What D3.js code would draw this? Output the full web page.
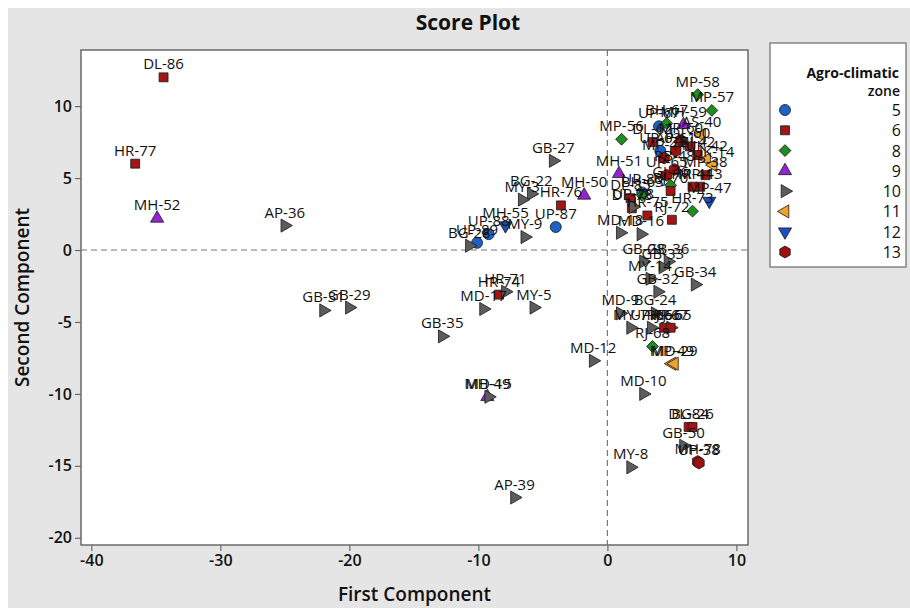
<!DOCTYPE html>
<html>
<head>
<meta charset="utf-8">
<script src="https://cdn.jsdelivr.net/npm/d3@7"></script>
<style>
  body { margin: 0; background: #fff; }
  svg { display: block; font-family: "Open Sans", "Noto Sans", sans-serif; }
</style>
</head>
<body>
<div id="chart"></div>
<script>
// Sample names, agro-climatic zones and PCA scores
const names = [
  "DL-86", "HR-77", "MH-52", "AP-36", "GB-31", "GB-29", "GB-35", "MD-17", "HR-74", "HR-71",
  "MY-5", "MD-12", "MH-49", "MD-15", "AP-39", "GB-27", "BG-22", "MY-3", "HR-76", "MH-50",
  "UP-87", "MH-55", "MY-9", "UP-88", "UP-89", "BG-28",
  "MP-58", "MP-57", "MP-56", "MH-51", "UP-67", "BH-67", "MH-59", "AS-40", "DL-62", "UP-62",
  "AP-61", "DL-60", "MP-60", "UK-42", "RJ-42", "MP-44", "UP-65", "UK-14", "MP-38", "PB-48",
  "GJ-46", "RJ-70", "HR-41", "MP-43", "MP-47", "HR-73", "RJ-72", "DL-85", "DL-78", "UP-78",
  "HR-75", "MD-18", "MD-16", "UP-80", "BH-63",
  "GB-28", "GB-36", "GB-33", "MY-14", "GB-34", "GB-32", "MD-9", "BG-24", "MY-7", "UP-66",
  "HP-65", "RJ-66", "RJ-67", "RJ-68", "MP-49", "MD-29", "MD-10", "DL-84", "BG-26", "GB-50",
  "MH-78", "UP-38", "MY-8"
];
const zones = [
  6, 6, 9, 10, 10, 10, 10, 10, 6, 10,
  10, 10, 9, 10, 10, 10, 10, 10, 6, 9,
  5, 12, 10, 5, 5, 10,
  8, 8, 8, 9, 5, 8, 9, 11, 6, 5,
  13, 6, 13, 11, 6, 13, 13, 11, 6, 13,
  8, 6, 6, 6, 12, 8, 6, 6, 6, 10,
  6, 10, 10, 5, 8,
  10, 10, 10, 10, 10, 10, 10, 10, 10, 10,
  10, 6, 6, 8, 11, 11, 10, 6, 6, 10,
  13, 13, 10
];
const firstComp = [
  -34.4, -36.6, -34.9, -25.0, -22.0, -20.0, -12.8, -9.6, -8.4, -7.9,
  -5.7, -1.1, -9.3, -9.2, -7.2, -4.2, -5.9, -6.6, -3.6, -1.8,
  -4.0, -7.9, -6.4, -9.2, -10.1, -10.7,
  7.0, 8.1, 1.1, 0.9, 4.0, 4.6, 5.9, 7.3, 3.5, 4.1,
  5.3, 6.4, 5.7, 7.7, 7.0, 4.4, 4.6, 8.2, 7.6, 5.2,
  4.9, 4.9, 6.6, 7.2, 7.9, 6.6, 5.0, 1.8, 1.9, 2.0,
  3.1, 1.0, 2.6, 2.7, 2.7,
  2.8, 4.7, 4.3, 3.3, 6.8, 3.9, 1.0, 3.7, 1.8, 3.4,
  4.9, 4.4, 4.9, 3.5, 5.0, 5.2, 2.8, 6.3, 6.6, 5.9,
  7.0, 7.1, 1.8
];
const secondComp = [
  12.0, 6.0, 2.2, 1.7, -4.2, -4.0, -6.0, -4.1, -3.1, -2.9,
  -4.0, -7.7, -10.2, -10.2, -17.2, 6.2, 3.9, 3.5, 3.1, 3.8,
  1.6, 1.7, 0.9, 1.1, 0.5, 0.3,
  10.8, 9.7, 7.7, 5.3, 8.6, 8.8, 8.7, 8.0, 7.5, 6.9,
  6.9, 7.2, 7.6, 6.3, 6.6, 6.4, 5.2, 5.9, 5.2, 5.6,
  4.5, 4.1, 4.4, 4.4, 3.4, 2.7, 2.1, 3.6, 2.9, 3.0,
  2.4, 1.2, 1.1, 4.0, 3.8,
  -0.8, -0.8, -1.2, -2.0, -2.4, -2.9, -4.4, -4.4, -5.4, -5.4,
  -5.4, -5.4, -5.4, -6.7, -7.9, -7.9, -10.0, -12.3, -12.3, -13.6,
  -14.7, -14.8, -15.1
];
const zoneKeys = [5, 6, 8, 9, 10, 11, 12, 13];
const xTicks = [-40, -30, -20, -10, 0, 10];
const yTicks = [10, 5, 0, -5, -10, -15, -20];

const W = 910, H = 608;
const plot = { left: 81, top: 50, right: 748, bottom: 545 };

const points = names.map((n, i) => ({ name: n, zone: zones[i], x: firstComp[i], y: secondComp[i] }));

// marker style per zone
const zoneStyle = {
  5:  { shape: "circle",  fill: "#1b62c4", rot: 0 },
  6:  { shape: "square",  fill: "#a31616", rot: 0 },
  8:  { shape: "diamond", fill: "#1e8c1e", rot: 0 },
  9:  { shape: "tri",     fill: "#9225cf", rot: 0 },
  10: { shape: "tri",     fill: "#5c5c5c", rot: 90 },
  11: { shape: "tri",     fill: "#f0a22e", rot: -90 },
  12: { shape: "tri",     fill: "#1a4fc2", rot: 180 },
  13: { shape: "hex",     fill: "#9c1010", rot: 0 }
};

function markerPath(shape) {
  if (shape === "circle") return d3.symbol(d3.symbolCircle, 95)();
  if (shape === "square") return d3.symbol(d3.symbolSquare, 80)();
  if (shape === "diamond") return d3.symbol(d3.symbolSquare, 70)();
  if (shape === "tri") return d3.symbol(d3.symbolTriangle, 75)();
  // hexagon, pointy top
  const r = 6;
  return d3.range(6).map(k => {
    const a = Math.PI / 3 * k - Math.PI / 2;
    return (k ? "L" : "M") + (r * Math.cos(a)).toFixed(2) + "," + (r * Math.sin(a)).toFixed(2);
  }).join("") + "Z";
}
function markerRot(s) {
  return s.shape === "diamond" ? 45 : s.rot;
}

const svg = d3.select("#chart").append("svg")
  .attr("width", W).attr("height", H);

// gray backdrop
svg.append("rect")
  .attr("x", 8).attr("y", 8).attr("width", W - 8).attr("height", H - 8)
  .attr("fill", "#e5e5e5");

const xScale = d3.scaleLinear().domain([-40.8, 10.9]).range([plot.left, plot.right]);
const yScale = d3.scaleLinear().domain([13.9, -20.5]).range([plot.top, plot.bottom]);

svg.append("rect")
  .attr("x", plot.left).attr("y", plot.top)
  .attr("width", plot.right - plot.left).attr("height", plot.bottom - plot.top)
  .attr("fill", "#fff").attr("stroke", "#6a6a6a").attr("stroke-width", 1.5);

// reference lines
svg.append("line")
  .attr("x1", xScale(0)).attr("x2", xScale(0))
  .attr("y1", plot.top).attr("y2", plot.bottom)
  .attr("stroke", "#777").attr("stroke-width", 1.2).attr("stroke-dasharray", "6,4");
svg.append("line")
  .attr("x1", plot.left).attr("x2", plot.right)
  .attr("y1", yScale(0)).attr("y2", yScale(0))
  .attr("stroke", "#777").attr("stroke-width", 1.2).attr("stroke-dasharray", "6,4");

// axes (plain hyphen for negatives, as in the original)
const xAxis = svg.append("g")
  .attr("transform", `translate(0,${plot.bottom})`)
  .call(d3.axisBottom(xScale).tickValues(xTicks).tickFormat(d => String(d)).tickSize(6).tickPadding(4));
const yAxis = svg.append("g")
  .attr("transform", `translate(${plot.left},0)`)
  .call(d3.axisLeft(yScale).tickValues(yTicks).tickFormat(d => String(d)).tickSize(6).tickPadding(3));
[xAxis, yAxis].forEach(a => {
  a.select(".domain").remove();
  a.selectAll(".tick line").attr("stroke", "#6a6a6a").attr("stroke-width", 1.2);
  a.selectAll(".tick text")
    .attr("fill", "#111")
    .style("font-size", "16px")
    .style("font-weight", "600")
    .style("font-family", "'Open Sans', sans-serif");
});

// markers
svg.append("g").selectAll("path")
  .data(points)
  .enter()
  .append("path")
  .attr("d", d => markerPath(zoneStyle[d.zone].shape))
  .attr("transform", d => `translate(${xScale(d.x)},${yScale(d.y)}) rotate(${markerRot(zoneStyle[d.zone])})`)
  .attr("fill", d => zoneStyle[d.zone].fill)
  .attr("stroke", "#1a1a1a")
  .attr("stroke-width", 0.8);

// point labels
svg.append("g").selectAll("text")
  .data(points)
  .enter()
  .append("text")
  .attr("x", d => xScale(d.x))
  .attr("y", d => yScale(d.y) - 8)
  .attr("text-anchor", "middle")
  .style("font-size", "15px")
  .attr("fill", "#111")
  .text(d => d.name);

// titles
svg.append("text")
  .attr("x", 468).attr("y", 30)
  .attr("text-anchor", "middle")
  .style("font-size", "21px").style("font-weight", "700")
  .attr("fill", "#111")
  .text("Score Plot");

svg.append("text")
  .attr("x", (plot.left + plot.right) / 2).attr("y", 601)
  .attr("text-anchor", "middle")
  .style("font-size", "19px").style("font-weight", "600")
  .attr("fill", "#111")
  .text("First Component");

svg.append("text")
  .attr("transform", `translate(29,${(plot.top + plot.bottom) / 2}) rotate(-90)`)
  .attr("text-anchor", "middle")
  .style("font-size", "19px").style("font-weight", "600")
  .attr("fill", "#111")
  .text("Second Component");

// legend
const legend = svg.append("g");
legend.append("rect")
  .attr("x", 770).attr("y", 43).attr("width", 136).attr("height", 224)
  .attr("fill", "#fff").attr("stroke", "#6a6a6a").attr("stroke-width", 1.2);
legend.append("text")
  .attr("x", 899).attr("y", 78).attr("text-anchor", "end")
  .style("font-size", "14px").style("font-weight", "700").attr("fill", "#111")
  .text("Agro-climatic");
legend.append("text")
  .attr("x", 900).attr("y", 96).attr("text-anchor", "end")
  .style("font-size", "14px").style("font-weight", "600").attr("fill", "#111")
  .text("zone");

const legendRow = d3.scaleLinear().domain([0, zoneKeys.length - 1]).range([110, 252]);
const items = legend.selectAll("g.item")
  .data(zoneKeys)
  .enter()
  .append("g")
  .attr("class", "item")
  .attr("transform", (d, i) => `translate(0,${legendRow(i)})`);
items.append("path")
  .attr("d", d => markerPath(zoneStyle[d].shape))
  .attr("transform", d => `translate(785,0) rotate(${markerRot(zoneStyle[d])})`)
  .attr("fill", d => zoneStyle[d].fill)
  .attr("stroke", "#1a1a1a")
  .attr("stroke-width", 0.8);
items.append("text")
  .attr("x", 901).attr("y", 6)
  .attr("text-anchor", "end")
  .style("font-size", "16px")
  .attr("fill", "#111")
  .text(d => d);
</script>
</body>
</html>
